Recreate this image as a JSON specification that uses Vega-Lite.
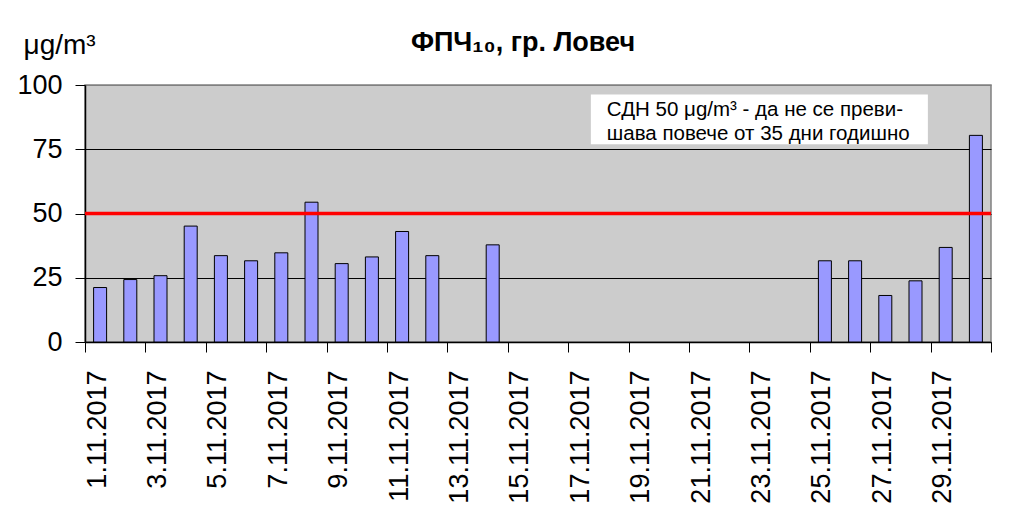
{
  "$schema": "https://vega.github.io/schema/vega-lite/v6.json",
  "width": 906,
  "height": 257,
  "autosize": {"type": "none"},
  "padding": {"left": 85, "top": 85, "right": 29, "bottom": 167},
  "background": "white",
  "title": {
    "text": "ФПЧ₁₀, гр. Ловеч",
    "font": "Liberation Sans",
    "fontSize": 27,
    "fontWeight": "bold",
    "color": "black",
    "anchor": "middle",
    "frame": "group",
    "dx": -15,
    "offset": -47,
    "baseline": "alphabetic"
  },
  "config": {
    "view": {"fill": "#CCCCCC", "stroke": "#808080", "strokeWidth": 1.5},
    "font": "Liberation Sans"
  },
  "layer": [
    {
      "data": {
        "values": [
          {"day": 1, "date": "1.11.2017", "pm10": 21.2},
          {"day": 2, "date": "2.11.2017", "pm10": 24.3},
          {"day": 3, "date": "3.11.2017", "pm10": 25.8},
          {"day": 4, "date": "4.11.2017", "pm10": 45.1},
          {"day": 5, "date": "5.11.2017", "pm10": 33.6},
          {"day": 6, "date": "6.11.2017", "pm10": 31.6},
          {"day": 7, "date": "7.11.2017", "pm10": 34.7},
          {"day": 8, "date": "8.11.2017", "pm10": 54.4},
          {"day": 9, "date": "9.11.2017", "pm10": 30.5},
          {"day": 10, "date": "10.11.2017", "pm10": 33.1},
          {"day": 11, "date": "11.11.2017", "pm10": 43.0},
          {"day": 12, "date": "12.11.2017", "pm10": 33.6},
          {"day": 14, "date": "14.11.2017", "pm10": 37.8},
          {"day": 25, "date": "25.11.2017", "pm10": 31.6},
          {"day": 26, "date": "26.11.2017", "pm10": 31.6},
          {"day": 27, "date": "27.11.2017", "pm10": 18.1},
          {"day": 28, "date": "28.11.2017", "pm10": 23.8},
          {"day": 29, "date": "29.11.2017", "pm10": 36.8},
          {"day": 30, "date": "30.11.2017", "pm10": 80.4}
        ]
      },
      "mark": {"type": "bar", "width": 13, "fill": "#9999FF", "stroke": "black", "strokeWidth": 1},
      "encoding": {
        "x": {
          "field": "day",
          "type": "quantitative",
          "scale": {"domain": [0.5, 30.5], "nice": false, "zero": false, "padding": 0},
          "axis": {
            "title": null,
            "values": [0.5, 2.5, 4.5, 6.5, 8.5, 10.5, 12.5, 14.5, 16.5, 18.5, 20.5, 22.5, 24.5, 26.5, 28.5, 30.5],
            "labelExpr": "datum.value > 30 ? '' : (datum.value + 0.5) + '.11.2017'",
            "labelAngle": 270,
            "labelAlign": "right",
            "labelBaseline": "middle",
            "labelOffset": 12,
            "labelPadding": 18,
            "labelFontSize": 27,
            "labelFont": "Liberation Sans",
            "labelColor": "black",
            "labelOverlap": false,
            "labelFlush": false,
            "labelBound": false,
            "labelLimit": 0,
            "tickSize": 10,
            "tickColor": "black",
            "tickWidth": 1,
            "domainColor": "black",
            "domainWidth": 1.5,
            "grid": false
          }
        },
        "y": {
          "field": "pm10",
          "type": "quantitative",
          "scale": {"domain": [0, 100], "nice": false},
          "axis": {
            "title": "μg/m³",
            "titleAngle": 0,
            "titleAlign": "left",
            "titleBaseline": "alphabetic",
            "titleX": -62,
            "titleY": -32,
            "titleFont": "Liberation Sans",
            "titleFontSize": 28,
            "titleFontWeight": "normal",
            "titleColor": "black",
            "values": [0, 25, 50, 75, 100],
            "labelFontSize": 27,
            "labelFont": "Liberation Sans",
            "labelColor": "black",
            "labelPadding": 13,
            "labelFlush": false,
            "tickSize": 10,
            "tickColor": "black",
            "domainColor": "black",
            "domainWidth": 1.5,
            "grid": true,
            "gridColor": {"condition": {"test": "datum.value == 100", "value": "#808080"}, "value": "#000000"},
            "gridWidth": 1
          }
        }
      }
    },
    {
      "data": {"values": [{"limit": 50}]},
      "mark": {"type": "rule", "color": "#FF0000", "strokeWidth": 3.5},
      "encoding": {"y": {"field": "limit", "type": "quantitative"}}
    },
    {
      "data": {"values": [{"note": "СДН"}]},
      "mark": {"type": "rect", "fill": "white", "stroke": null},
      "encoding": {
        "x": {"datum": 17.25},
        "x2": {"datum": 28.41},
        "y": {"datum": 76.9},
        "y2": {"datum": 96.3}
      }
    },
    {
      "data": {"values": [{"note": "СДН"}]},
      "mark": {
        "type": "text",
        "text": ["СДН 50 μg/m³ -  да не се преви-", "шава повече от 35 дни годишно"],
        "font": "Liberation Sans",
        "fontSize": 20.5,
        "fontWeight": 400,
        "lineHeight": 24,
        "align": "left",
        "baseline": "alphabetic",
        "fill": "black"
      },
      "encoding": {
        "x": {"datum": 17.78},
        "y": {"datum": 87.9}
      }
    }
  ]
}
